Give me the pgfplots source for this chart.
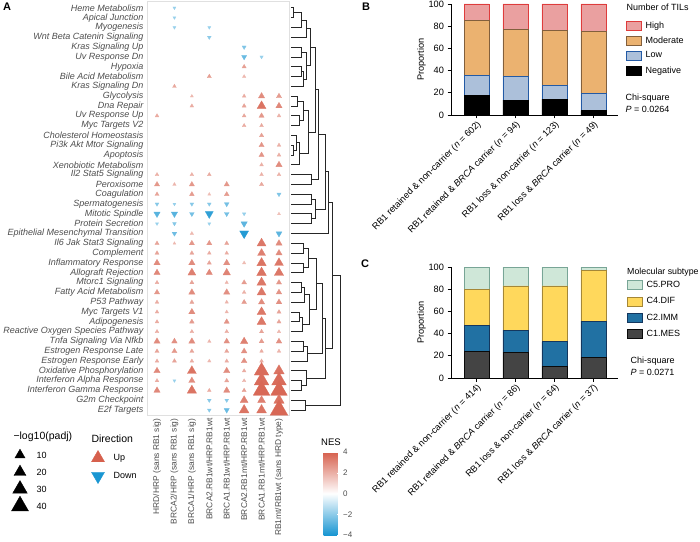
\documentclass[border=0pt]{standalone}
\usepackage{pgfplots}
\pgfplotsset{compat=1.18}
\usepackage{pgfplotstable}
\usepackage{fontspec}
\setmainfont{Liberation Sans}

\definecolor{nesred}{RGB}{214,96,77}
\definecolor{nesblue}{RGB}{25,150,210}
\definecolor{lblgray}{RGB}{77,77,77}
\definecolor{hiF}{RGB}{234,160,160}\definecolor{hiD}{RGB}{222,60,60}
\definecolor{moF}{RGB}{235,178,112}\definecolor{moD}{RGB}{130,95,60}
\definecolor{loF}{RGB}{172,192,218}\definecolor{loD}{RGB}{35,90,165}
\definecolor{c5F}{RGB}{207,231,216}\definecolor{c5D}{RGB}{120,165,150}
\definecolor{c4F}{RGB}{255,216,92}\definecolor{c4D}{RGB}{165,135,55}
\definecolor{c2F}{RGB}{33,113,163}\definecolor{c2D}{RGB}{20,55,95}
\definecolor{c1F}{RGB}{68,68,68}\definecolor{c1D}{RGB}{10,10,10}

\newcommand\fsR{\fontsize{9}{9.5}\selectfont}
\newcommand\fsA{\fontsize{8.4}{9}\selectfont}
\newcommand\fsB{\fontsize{9.2}{10}\selectfont}
\newcommand\fsL{\fontsize{9}{10}\selectfont}
\newcommand\fsT{\fontsize{10.5}{12}\selectfont}
\newcommand\fsC{\fontsize{8}{9}\selectfont}

\pgfdeclareplotmark{dtri*}{%
  \pgfpathmoveto{\pgfqpoint{0pt}{-\pgfplotmarksize}}%
  \pgfpathlineto{\pgfqpointpolar{30}{\pgfplotmarksize}}%
  \pgfpathlineto{\pgfqpointpolar{150}{\pgfplotmarksize}}%
  \pgfpathclose\pgfusepathqfillstroke}

% col row -log10(padj) NES
\pgfplotstableread{
x y v nes
6 7 2.2 2.4
4 8 2.2 2.4
6 8 1.5 1.8
2 9 1.8 2.2
3 10 1.2 1.8
6 10 1.8 2.1
7 10 5 2.9
8 10 3.4 2.5
3 11 1.8 2.1
6 11 2.2 2.3
7 11 10 3.5
8 11 5 3.0
1 12 1.8 2.1
6 12 1.8 2.2
7 12 3.4 2.6
8 12 1.8 1.9
6 13 1.8 2.1
7 13 1.8 2.2
7 14 2.2 2.4
7 15 3.4 2.7
8 15 1.8 2.0
7 16 3.4 2.7
8 16 1.8 2.0
7 17 1.8 2.0
8 17 5 2.9
1 18 1.8 2.0
3 18 1.8 2.0
4 18 1.8 2.2
7 18 1.8 2.0
8 18 1.8 2.0
1 19 3.4 2.6
2 19 1.5 1.9
3 19 3.4 2.6
5 19 3.4 2.6
7 19 2.2 2.2
1 20 2.2 2.3
3 20 2.8 2.5
4 20 1.2 1.7
5 20 2.8 2.5
8 22 1.2 1.6
3 24 1.5 1.8
1 25 2.2 2.3
2 25 1.0 1.8
3 25 3.4 2.6
4 25 3.4 2.6
5 25 2.2 2.3
7 25 10 3.4
8 25 5 2.9
1 26 2.2 2.3
3 26 2.2 2.3
4 26 1.8 2.1
5 26 1.8 2.1
7 26 8 3.2
8 26 5 2.9
1 27 5 2.9
3 27 5 2.9
4 27 2.2 2.3
5 27 5 2.8
6 27 1.5 1.7
7 27 11 3.5
8 27 10 3.4
1 28 5 3.0
3 28 8 3.2
4 28 5 3.0
5 28 7 3.1
7 28 12 3.5
8 28 11 3.4
1 29 1.8 2.1
3 29 2.2 2.3
5 29 1.5 1.9
6 29 3 2.5
7 29 11 3.4
8 29 3.4 2.6
1 30 3.4 2.6
3 30 5 2.9
5 30 5 2.8
6 30 1.8 2.0
7 30 10 3.4
8 30 4 2.7
1 31 1.8 2.1
3 31 2.2 2.3
5 31 1.5 1.9
6 31 3 2.5
7 31 5 2.9
8 31 4 2.8
1 32 1.8 2.1
3 32 5 2.9
5 32 1.5 1.9
7 32 10 3.4
8 32 2.2 2.3
1 33 1.8 2.1
3 33 2.8 2.5
5 33 3.4 2.7
7 33 10 3.4
8 33 2.2 2.3
1 34 1.8 2.1
3 34 1.8 2.1
5 34 1.8 2.1
7 34 2.2 2.3
8 34 1.5 1.8
1 35 5 2.9
2 35 4 2.8
3 35 5 2.9
4 35 1.5 1.9
5 35 4 2.8
6 35 7 3.2
7 35 3 2.5
8 35 4 2.8
1 36 2.2 2.3
2 36 3.4 2.6
3 36 2.2 2.3
5 36 2.2 2.3
6 36 4 2.8
7 36 1.8 2.1
8 36 1.8 1.9
1 37 1.8 2.1
2 37 2.2 2.3
3 37 1.8 2.1
4 37 1.5 1.8
5 37 1.8 2.1
6 37 4 2.8
7 37 1.8 2.1
1 38 5 3.0
3 38 10 3.5
5 38 5 2.9
6 38 1.8 2.1
7 38 27 3.7
8 38 14 3.5
1 39 1.8 2.1
3 39 5 2.9
5 39 2.2 2.3
6 39 1.5 1.9
7 39 27 3.7
8 39 27 3.7
1 40 5 3.0
3 40 11 3.5
4 40 1.8 2.1
5 40 5 2.9
6 40 2.2 2.4
7 40 35 3.8
8 40 35 3.8
6 41 8 3.2
7 41 8 3.2
8 41 14 3.5
6 42 12 3.5
7 42 12 3.5
8 42 40 3.8
}\uptab

\pgfplotstableread{
x y v nes
2 1 1.2 -1.8
2 2 1.2 -1.8
2 3 1.2 -1.8
4 3 1.2 -1.8
4 4 1.8 -2.0
6 5 2.2 -2.2
6 6 3.4 -2.6
7 6 1.5 -1.8
8 20 2.2 -2.2
1 21 1.8 -2.1
2 21 1.2 -1.8
3 21 1.8 -2.1
4 21 1.8 -2.1
5 21 2.8 -2.4
1 22 5 -2.9
2 22 5 -2.9
3 22 2.8 -2.4
4 22 8 -3.6
5 22 2.8 -2.4
6 22 1.5 -1.8
1 23 1.2 -1.8
2 23 1.8 -2.1
4 23 1.2 -1.8
6 23 5 -2.8
2 24 2.8 -2.5
6 24 10 -3.8
8 24 4.5 -2.8
2 39 1.2 -1.8
4 41 1.8 -2.1
5 41 1.8 -2.1
4 42 1.8 -2.1
5 42 3.4 -2.6
}\downtab

\begin{document}
\begin{tikzpicture}
\useasboundingbox (0pt,0pt) rectangle (700pt,541pt);

% ---------------- Panel A grid ----------------
\begin{axis}[
  at={(147pt,126pt)}, anchor=south west, scale only axis,
  width=142pt, height=414pt,
  xmin=0.425, xmax=8.575, ymin=0.3, ymax=42.5, y dir=reverse,
  axis line style={draw=black!12},
  xtick={1,...,8}, ytick={1,...,42},
  xticklabels={HRD/HRP (sans RB1 sig),BRCA2/HRP (sans RB1 sig),BRCA1/HRP (sans RB1 sig),BRCA2.RB1wt/HRP.RB1wt,BRCA1.RB1wt/HRP.RB1wt,BRCA2.RB1mt/HRP.RB1wt,BRCA1.RB1mt/HRP.RB1wt,RB1mt/RB1wt (sans HRD type)},
  yticklabels={Heme Metabolism,Apical Junction,Myogenesis,Wnt Beta Catenin Signaling,Kras Signaling Up,Uv Response Dn,Hypoxia,Bile Acid Metabolism,Kras Signaling Dn,Glycolysis,Dna Repair,Uv Response Up,Myc Targets V2,Cholesterol Homeostasis,Pi3k Akt Mtor Signaling,Apoptosis,Xenobiotic Metabolism,Il2 Stat5 Signaling,Peroxisome,Coagulation,Spermatogenesis,Mitotic Spindle,Protein Secretion,Epithelial Mesenchymal Transition,Il6 Jak Stat3 Signaling,Complement,Inflammatory Response,Allograft Rejection,Mtorc1 Signaling,Fatty Acid Metabolism,P53 Pathway,Myc Targets V1,Adipogenesis,Reactive Oxygen Species Pathway,Tnfa Signaling Via Nfkb,Estrogen Response Late,Estrogen Response Early,Oxidative Phosphorylation,Interferon Alpha Response,Interferon Gamma Response,G2m Checkpoint,E2f Targets},
  major tick length=0pt,
  xticklabel style={rotate=90, anchor=east, font=\fsA, text=lblgray},
  yticklabel style={font=\fsR\itshape, text=lblgray},
  colormap={nes}{rgb255(0cm)=(25,150,210); rgb255(1cm)=(255,255,255); rgb255(2cm)=(214,96,77)},
  point meta min=-4, point meta max=4,
  colorbar,
  colorbar style={
    at={(parent axis.south east)}, anchor=north west, xshift=26pt, yshift=-37pt,
    scale only axis, width=16pt, height=83pt,
    ytick={-4,-2,0,2,4}, yticklabels={−4,−2,0,2,4},
    yticklabel style={font=\fsC, text=lblgray},
    ytick pos=right, yticklabel pos=right,
    tick align=inside, major tick length=3pt,
    major tick style={white, line width=0.5pt},
    axis line style={draw=none},
  },
  clip=false,
]
\addplot[scatter, only marks, mark=triangle*, point meta=\thisrow{nes},
  scatter/use mapped color={draw=mapped color, fill=mapped color},
  visualization depends on={1.617*sqrt(\thisrow{v}) \as \perpointsize},
  scatter/@pre marker code/.append style={/tikz/mark size=\perpointsize},
  line width=0.3pt] table[x=x,y=y] {\uptab};
\addplot[scatter, only marks, mark=dtri*, point meta=\thisrow{nes},
  scatter/use mapped color={draw=mapped color, fill=mapped color},
  visualization depends on={1.617*sqrt(\thisrow{v}) \as \perpointsize},
  scatter/@pre marker code/.append style={/tikz/mark size=\perpointsize},
  line width=0.3pt] table[x=x,y=y] {\downtab};
\end{axis}

% ---------------- Dendrogram ----------------
\begin{axis}[
  at={(291pt,126pt)}, anchor=south west, scale only axis,
  width=55pt, height=414pt, xmin=0, xmax=55, ymin=0.3, ymax=42.5, y dir=reverse,
  hide axis, clip=false, unbounded coords=jump]
\addplot[black!85, line width=0.8pt, mark=none] coordinates {
(0,1)(2,1)(2,2)(0,2) (0,nan)
(2,1.5)(10,1.5)(10,3)(0,3) (0,nan)
(10,2.25)(15,2.25)(15,4)(0,4) (0,nan)
(0,5)(10,5)(10,6)(0,6) (0,nan)
(0,7)(10,7)(10,8)(0,8) (0,nan)
(10,7.5)(12,7.5)(12,9)(0,9) (0,nan)
(10,5.5)(15,5.5)(15,8.25)(12,8.25) (0,nan)
(15,3.125)(19,3.125)(19,6.875)(15,6.875) (0,nan)
(0,10)(6,10)(6,11)(0,11) (0,nan)
(0,12)(8,12)(8,13)(0,13) (0,nan)
(6,10.5)(12,10.5)(12,12.5)(8,12.5) (0,nan)
(0,15)(2,15)(2,16)(0,16) (0,nan)
(0,14)(5,14)(5,15.5)(2,15.5) (0,nan)
(5,14.75)(8,14.75)(8,17)(0,17) (0,nan)
(12,11.5)(17,11.5)(17,15.875)(8,15.875) (0,nan)
(19,5)(24,5)(24,13.69)(17,13.69) (0,nan)
(0,18)(20,18)(20,19)(0,19) (0,nan)
(24,9.34)(27,9.34)(27,18.5)(20,18.5) (0,nan)
(0,20)(20,20)(20,21)(0,21) (0,nan)
(0,22)(20,22)(20,23)(0,23) (0,nan)
(20,20.5)(24,20.5)(24,22.5)(20,22.5) (0,nan)
(27,13.92)(34,13.92)(34,21.5)(24,21.5) (0,nan)
(34,17.71)(37,17.71)(37,24)(0,24) (0,nan)
(0,25)(12,25)(12,26)(0,26) (0,nan)
(0,27)(12,27)(12,28)(0,28) (0,nan)
(12,25.5)(17,25.5)(17,27.5)(12,27.5) (0,nan)
(0,29)(10,29)(10,30)(0,30) (0,nan)
(10,29.5)(13,29.5)(13,31)(0,31) (0,nan)
(0,32)(8,32)(8,33)(0,33) (0,nan)
(8,32.5)(11,32.5)(11,34)(0,34) (0,nan)
(13,30.25)(18,30.25)(18,33.25)(11,33.25) (0,nan)
(17,26.5)(25,26.5)(25,31.75)(18,31.75) (0,nan)
(0,35)(12,35)(12,36)(0,36) (0,nan)
(12,35.5)(16,35.5)(16,37)(0,37) (0,nan)
(25,29.125)(31,29.125)(31,36.25)(16,36.25) (0,nan)
(0,39)(10,39)(10,40)(0,40) (0,nan)
(0,38)(15,38)(15,39.5)(10,39.5) (0,nan)
(31,32.69)(34,32.69)(34,38.75)(15,38.75) (0,nan)
(37,20.86)(41,20.86)(41,35.72)(34,35.72) (0,nan)
(0,41)(14,41)(14,42)(0,42) (0,nan)
(41,28.29)(49,28.29)(49,41.5)(14,41.5)
};
\end{axis}

% ---------------- Panel B ----------------
\begin{axis}[
  at={(451pt,426pt)}, anchor=south west, scale only axis,
  width=167pt, height=111pt,
  ybar stacked, bar width=25pt,
  xmin=-0.654, xmax=3.63, ymin=0, ymax=100,
  axis x line=bottom, axis y line=left, axis line style={-, line width=0.8pt},
  ytick={0,20,...,100}, xtick={0,1,2,3},
  xticklabels={RB1 retained \& non-carrier (\textit{n} = 602),RB1 retained \& \textit{BRCA} carrier (\textit{n} = 94),RB1 loss \& non-carrier (\textit{n} = 123),RB1 loss \& \textit{BRCA} carrier (\textit{n} = 49)},
  tick align=outside, major tick length=3.5pt, tick style={black, line width=0.8pt},
  xticklabel style={rotate=45, anchor=north east, font=\fsB, inner sep=1pt},
  yticklabel style={font=\fsB},
  /pgf/number format/assume math mode=true,
  ylabel={Proportion}, ylabel style={font=\fsB, yshift=-4pt},
  legend style={at={(1.045,0.862)}, anchor=north west, draw=none, fill=none, font=\fsL, row sep=3.1pt, inner sep=0pt,
    /tikz/every odd column/.append style={column sep=2pt}},
  legend cell align=left, reverse legend,
  legend image code/.code={\draw[#1, line width=0.8pt] (0pt,-4.5pt) rectangle (15pt,4.5pt);},
]
\addplot[fill=black, draw=black, line width=0.8pt] coordinates {(0,18.0) (1,13.5) (2,14.4) (3,3.9)};
\addplot[fill=loF, draw=loD, line width=0.8pt] coordinates {(0,17.7) (1,21.3) (2,12.3) (3,15.6)};
\addplot[fill=moF, draw=moD, line width=0.8pt] coordinates {(0,49.3) (1,42.4) (2,49.6) (3,55.6)};
\addplot[fill=hiF, draw=hiD, line width=0.8pt] coordinates {(0,15.0) (1,22.8) (2,23.7) (3,24.9)};
\legend{Negative,Low,Moderate,High}
\end{axis}

% ---------------- Panel C ----------------
\begin{axis}[
  at={(451pt,163pt)}, anchor=south west, scale only axis,
  width=167pt, height=111pt,
  ybar stacked, bar width=25pt,
  xmin=-0.654, xmax=3.63, ymin=0, ymax=100,
  axis x line=bottom, axis y line=left, axis line style={-, line width=0.8pt},
  ytick={0,20,...,100}, xtick={0,1,2,3},
  xticklabels={RB1 retained \& non-carrier (\textit{n} = 414),RB1 retained \& \textit{BRCA} carrier (\textit{n} = 86),RB1 loss \& non-carrier (\textit{n} = 64),RB1 loss \& \textit{BRCA} carrier (\textit{n} = 37)},
  tick align=outside, major tick length=3.5pt, tick style={black, line width=0.8pt},
  xticklabel style={rotate=45, anchor=north east, font=\fsB, inner sep=1pt},
  yticklabel style={font=\fsB},
  /pgf/number format/assume math mode=true,
  ylabel={Proportion}, ylabel style={font=\fsB, yshift=-4pt},
  legend style={at={(1.052,0.89)}, anchor=north west, draw=none, fill=none, font=\fsL, row sep=4.4pt, inner sep=0pt,
    /tikz/every odd column/.append style={column sep=2pt}},
  legend cell align=left, reverse legend,
  legend image code/.code={\draw[#1, line width=0.8pt] (0pt,-4.5pt) rectangle (15pt,4.5pt);},
]
\addplot[fill=c1F, draw=c1D, line width=0.8pt] coordinates {(0,24.3) (1,23.4) (2,10.8) (3,18.9)};
\addplot[fill=c2F, draw=c2D, line width=0.8pt] coordinates {(0,23.3) (1,19.7) (2,21.8) (3,32.3)};
\addplot[fill=c4F, draw=c4D, line width=0.8pt] coordinates {(0,32.3) (1,39.8) (2,50.3) (3,45.8)};
\addplot[fill=c5F, draw=c5D, line width=0.8pt] coordinates {(0,20.1) (1,17.1) (2,17.1) (3,3.0)};
\legend{C1.MES,C2.IMM,C4.DIF,C5.PRO}
\end{axis}

% ---------------- Overlay: texts and legend keys ----------------
\begin{axis}[
  at={(0pt,0pt)}, anchor=south west, scale only axis,
  width=700pt, height=541pt, xmin=0, xmax=700, ymin=0, ymax=541, y dir=reverse,
  hide axis, clip=false]
\node[font=\fontsize{11}{12}\selectfont\bfseries] at (axis cs:7,7) {A};
\node[font=\fontsize{11}{12}\selectfont\bfseries] at (axis cs:366,7) {B};
\node[font=\fontsize{11}{12}\selectfont\bfseries] at (axis cs:365,264) {C};
\node[anchor=west, font=\fsL] at (axis cs:623,7) {Number of TILs};
\node[anchor=west, font=\fsL] at (axis cs:622,98) {Chi-square};
\node[anchor=west, font=\fsL] at (axis cs:622,109) {\textit{P} = 0.0264};
\node[anchor=west, inner sep=0pt, font=\fontsize{8.8}{10}\selectfont] at (axis cs:627,272) {Molecular subtype};
\node[anchor=west, font=\fsL] at (axis cs:627,361) {Chi-square};
\node[anchor=west, font=\fsL] at (axis cs:627,372) {\textit{P} = 0.0271};
\node[anchor=west, font=\fsT] at (axis cs:10,437) {−log10(padj)};
\node[anchor=west, font=\fsT] at (axis cs:88,439) {Direction};
\node[anchor=west, font=\fsL] at (axis cs:33,455) {10};
\node[anchor=west, font=\fsL] at (axis cs:33,472) {20};
\node[anchor=west, font=\fsL] at (axis cs:33,489) {30};
\node[anchor=west, font=\fsL] at (axis cs:33,506) {40};
\node[anchor=west, font=\fsL] at (axis cs:110,458) {Up};
\node[anchor=west, font=\fsL] at (axis cs:110,475) {Down};
\node[font=\fontsize{9.5}{11}\selectfont] at (axis cs:331,442) {NES};
\addplot[only marks, mark=triangle*, draw=black, fill=black, mark size=5.8] coordinates {(20,455)};
\addplot[only marks, mark=triangle*, draw=black, fill=black, mark size=6.9] coordinates {(20,472)};
\addplot[only marks, mark=triangle*, draw=black, fill=black, mark size=8.4] coordinates {(20,489)};
\addplot[only marks, mark=triangle*, draw=black, fill=black, mark size=9.8] coordinates {(20,506)};
\addplot[only marks, mark=triangle*, draw=nesred, fill=nesred, mark size=7.5] coordinates {(98,458)};
\addplot[only marks, mark=dtri*, draw=nesblue, fill=nesblue, mark size=7.5] coordinates {(98,476)};
\end{axis}
\end{tikzpicture}
\end{document}
